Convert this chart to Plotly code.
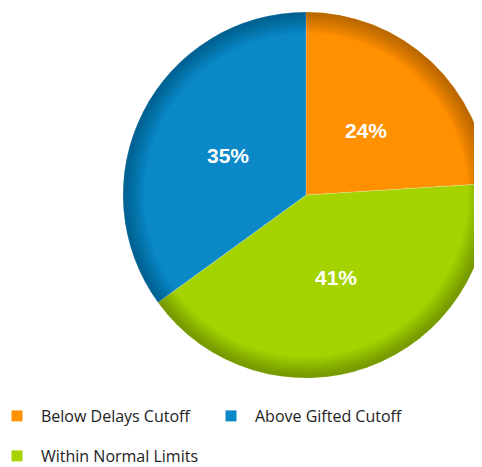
import math
import plotly.graph_objects as go

# Data
slice_labels = ["Below Delays Cutoff", "Within Normal Limits", "Above Gifted Cutoff"]
slice_values = [24, 41, 35]
slice_colors = ["#FF9000", "#A4D300", "#0A88C8"]

legend_row1 = ["Below Delays Cutoff", "Above Gifted Cutoff"]
legend_row2 = ["Within Normal Limits"]
color_map = dict(zip(slice_labels, slice_colors))

# figure geometry (page body adds an 8px offset)
W, H = 482, 467
MB = 90
PH = H - MB
cx, cy, r = 298, 187, 183
dom = dict(x=[(cx - r) / W, min(1, (cx + r) / W)], y=[(PH - cy - r) / PH, (PH - cy + r) / PH])

fig = go.Figure()
fig.add_trace(go.Pie(
    labels=slice_labels, values=slice_values, sort=False, direction="clockwise",
    rotation=0, marker=dict(colors=slice_colors, line=dict(color="rgba(255,255,255,0.35)", width=0.6)),
    textinfo="none", showlegend=False, hoverinfo="label+percent", domain=dom,
))

# rim shading rings (smooth darkening toward the edge)
n_rings = 12
for i in range(n_rings):
    hole = 0.885 + i * 0.009
    fig.add_trace(go.Pie(
        labels=slice_labels, values=slice_values, sort=False, direction="clockwise",
        hole=hole, marker=dict(colors=["rgba(0,0,0,0.022)"] * len(slice_values), line=dict(width=0)),
        textinfo="none", hoverinfo="skip", showlegend=False, domain=dom,
    ))

# percentage labels placed along each slice's bisector
total = sum(slice_values)
start = 0.0
for lab, val in zip(slice_labels, slice_values):
    mid = (start + val / 2) / total * 2 * math.pi
    start += val
    d = 0.48 * r
    px = cx + d * math.sin(mid)
    py = cy - d * math.cos(mid)
    fig.add_annotation(x=px / W, y=(PH - py) / PH, xref="paper", yref="paper",
                       xanchor="center", yanchor="middle",
                       text=f"{round(val / total * 100)}%", showarrow=False,
                       font=dict(family="Arial, Liberation Sans", size=21, color="white", weight="bold"))

for name in legend_row1:
    fig.add_trace(go.Scatter(x=[None], y=[None], mode="markers", name=name,
                             marker=dict(symbol="square", size=11, color=color_map[name]),
                             legend="legend"))
for name in legend_row2:
    fig.add_trace(go.Scatter(x=[None], y=[None], mode="markers", name=name,
                             marker=dict(symbol="square", size=11, color=color_map[name]),
                             legend="legend2"))

legend_common = dict(orientation="h", xanchor="left", yanchor="middle",
                     font=dict(family="Open Sans, Noto Sans", size=16, color="#222"),
                     entrywidth=161, entrywidthmode="pixels", itemwidth=38,
                     bgcolor="rgba(0,0,0,0)")
fig.update_layout(
    width=W, height=H, margin=dict(l=0, r=0, t=0, b=MB, autoexpand=False),
    paper_bgcolor="white", plot_bgcolor="white",
    xaxis=dict(visible=False), yaxis=dict(visible=False),
    legend=dict(x=-15 / W, y=(PH - 408) / PH, **legend_common),
    legend2=dict(x=-15 / W, y=(PH - 448) / PH, **legend_common),
)
fig.write_html("out.html")
